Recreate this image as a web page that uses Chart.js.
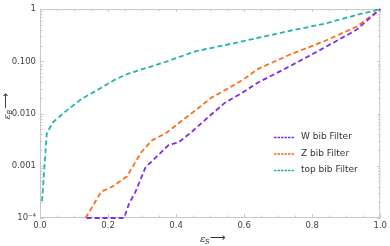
<!DOCTYPE html>
<html>
<head>
<meta charset="utf-8">
<script src="https://cdn.jsdelivr.net/npm/chart.js@4.4.1/dist/chart.umd.min.js"></script>
<style>
  html, body { margin: 0; padding: 0; background: #fff; }
  #wrap { width: 390px; height: 246px; }
</style>
</head>
<body>
<div id="wrap"><canvas id="roc"></canvas></div>
<script>
// signal efficiency (x) and background efficiency (y)
const wSig = [0.137, 0.247, 0.262, 0.28, 0.31, 0.343, 0.378, 0.407, 0.445, 0.494, 0.543, 0.59, 0.64, 0.735, 0.834, 0.93, 1.0];
const wBkg = [1e-4, 1e-4, 1.9e-4, 3.1e-4, 9.3e-4, 1.5e-3, 2.5e-3, 2.8e-3, 4.4e-3, 8.5e-3, 0.016, 0.024, 0.039, 0.081, 0.18, 0.40, 1.0];

const zSig = [0.134, 0.18, 0.213, 0.256, 0.297, 0.33, 0.37, 0.407, 0.456, 0.503, 0.552, 0.6, 0.64, 0.735, 0.834, 0.93, 1.0];
const zBkg = [1e-4, 3.2e-4, 4e-4, 6.3e-4, 1.8e-3, 3.1e-3, 4.2e-3, 6.5e-3, 0.0114, 0.020, 0.030, 0.046, 0.071, 0.135, 0.24, 0.46, 1.0];

const topSig = [0.006, 0.02, 0.038, 0.078, 0.122, 0.174, 0.224, 0.262, 0.358, 0.456, 0.552, 0.64, 0.735, 0.834, 0.93, 1.0];
const topBkg = [2.1e-4, 4.2e-3, 6.8e-3, 0.0114, 0.019, 0.0296, 0.046, 0.059, 0.092, 0.155, 0.21, 0.28, 0.385, 0.52, 0.77, 1.0];

const seriesNames = ["W bib Filter", "Z bib Filter", "top bib Filter"];
const seriesColors = ["#7b2cf2", "#ff6c1a", "#22b5b0"];

const xTicks = [0, 0.2, 0.4, 0.6, 0.8, 1.0];
const yTicks = [1e-4, 1e-3, 1e-2, 0.1, 1];
const yTickLabels = ["10\u207B\u2074", "0.001", "0.010", "0.100", "1"];

const toPoints = (xs, ys) => xs.map((x, i) => ({ x, y: ys[i] }));

const frameColor = "#c8c8c8";

// frame ticks, axis titles and the inset legend
const decorPlugin = {
  id: "decor",
  beforeDatasetsDraw(chart) {
    const { ctx, chartArea: a, scales } = chart;
    const xs = scales.x, ys = scales.y;
    ctx.save();
    ctx.strokeStyle = frameColor;
    ctx.lineWidth = 1;
    ctx.strokeRect(a.left + 0.5, a.top + 0.5, a.right - a.left - 1, a.bottom - a.top - 1);

    // x ticks (bottom long, top short)
    for (let i = 0; i <= 20; i++) {
      const v = i * 0.05;
      const px = Math.round(xs.getPixelForValue(v)) + 0.5;
      const major = i % 4 === 0;
      ctx.beginPath();
      ctx.moveTo(px, a.bottom);
      ctx.lineTo(px, a.bottom - (major ? 4 : 2.5));
      ctx.moveTo(px, a.top);
      ctx.lineTo(px, a.top + (major ? 3 : 2));
      ctx.stroke();
    }
    // y ticks, log minor ticks
    for (let d = -4; d < 0; d++) {
      for (let m = 1; m < 10; m++) {
        const v = m * Math.pow(10, d);
        const py = Math.round(ys.getPixelForValue(v)) + 0.5;
        const major = m === 1;
        ctx.beginPath();
        ctx.moveTo(a.left, py);
        ctx.lineTo(a.left + (major ? 4 : 2.5), py);
        ctx.moveTo(a.right, py);
        ctx.lineTo(a.right - (major ? 3 : 2), py);
        ctx.stroke();
      }
    }
    ctx.restore();
  },
  afterDraw(chart) {
    const { ctx, chartArea: a } = chart;
    ctx.save();
    // axis titles
    ctx.fillStyle = "#333";
    ctx.font = "italic 10px 'DejaVu Serif', serif";
    const cx = (a.left + a.right) / 2 + 2;
    ctx.textBaseline = "alphabetic";
    ctx.textAlign = "left";
    ctx.fillText("\u03B5", cx - 12, 242);
    ctx.font = "italic 7px 'DejaVu Sans', sans-serif";
    ctx.fillText("S", cx - 7, 244);
    ctx.font = "11px 'DejaVu Sans', sans-serif";
    ctx.fillText("\u27F6", cx - 2, 241);

    ctx.save();
    ctx.translate(10, (a.top + a.bottom) / 2 - 6);
    ctx.rotate(-Math.PI / 2);
    ctx.font = "italic 10px 'DejaVu Serif', serif";
    ctx.fillText("\u03B5", -12, 0);
    ctx.font = "italic 7px 'DejaVu Sans', sans-serif";
    ctx.fillText("B", -7, 2);
    ctx.font = "11px 'DejaVu Sans', sans-serif";
    ctx.fillText("\u27F6", -1, -1);
    ctx.restore();

    // legend inside plot
    ctx.font = "9px 'DejaVu Sans', sans-serif";
    ctx.textBaseline = "middle";
    chart.data.datasets.forEach((ds, i) => {
      const ly = 137 + i * 16.5;
      ctx.strokeStyle = ds.borderColor;
      ctx.lineWidth = 1.3;
      ctx.setLineDash([2.5, 1]);
      ctx.beginPath();
      ctx.moveTo(274, ly + 0.5);
      ctx.lineTo(295, ly + 0.5);
      ctx.stroke();
      ctx.setLineDash([]);
      ctx.fillStyle = "#333";
      ctx.fillText(ds.label, 301, ly);
    });
    ctx.restore();
  },
};

const makeDataset = (i, pts) => ({
  label: seriesNames[i],
  data: pts,
  borderColor: seriesColors[i],
  backgroundColor: seriesColors[i],
  borderWidth: 1.8,
  borderDash: [5, 3],
  pointRadius: 0,
  tension: 0,
  fill: false,
  clip: 3,
});

new Chart(document.getElementById("roc"), {
  type: "line",
  data: {
    datasets: [
      makeDataset(0, toPoints(wSig, wBkg)),
      makeDataset(1, toPoints(zSig, zBkg)),
      makeDataset(2, toPoints(topSig, topBkg)),
    ],
  },
  options: {
    responsive: true,
    maintainAspectRatio: false,
    animation: false,
    layout: { padding: { top: 5, right: 7, left: 0, bottom: 0 } },
    plugins: {
      legend: { display: false },
      tooltip: { enabled: false },
    },
    scales: {
      x: {
        type: "linear",
        min: 0,
        max: 1,
        grid: { display: false, drawTicks: false },
        border: { display: false },
        afterBuildTicks: (s) => { s.ticks = xTicks.map((v) => ({ value: v })); },
        afterFit: (s) => { s.height = 28; },
        ticks: {
          color: "#444",
          font: { size: 8.5, family: "'DejaVu Sans', sans-serif" },
          padding: 3,
          maxRotation: 0,
          callback: (v) => v.toFixed(1),
        },
      },
      y: {
        type: "logarithmic",
        min: 1e-4,
        max: 1,
        grid: { display: false, drawTicks: false },
        border: { display: false },
        afterBuildTicks: (s) => { s.ticks = yTicks.map((v) => ({ value: v })); },
        afterFit: (s) => { s.width = 40; },
        ticks: {
          color: "#444",
          font: { size: 8.5, family: "'DejaVu Sans', sans-serif" },
          padding: 4,
          callback: (v) => yTickLabels[yTicks.indexOf(v)] ?? "",
        },
      },
    },
  },
  plugins: [decorPlugin],
});
</script>
</body>
</html>
